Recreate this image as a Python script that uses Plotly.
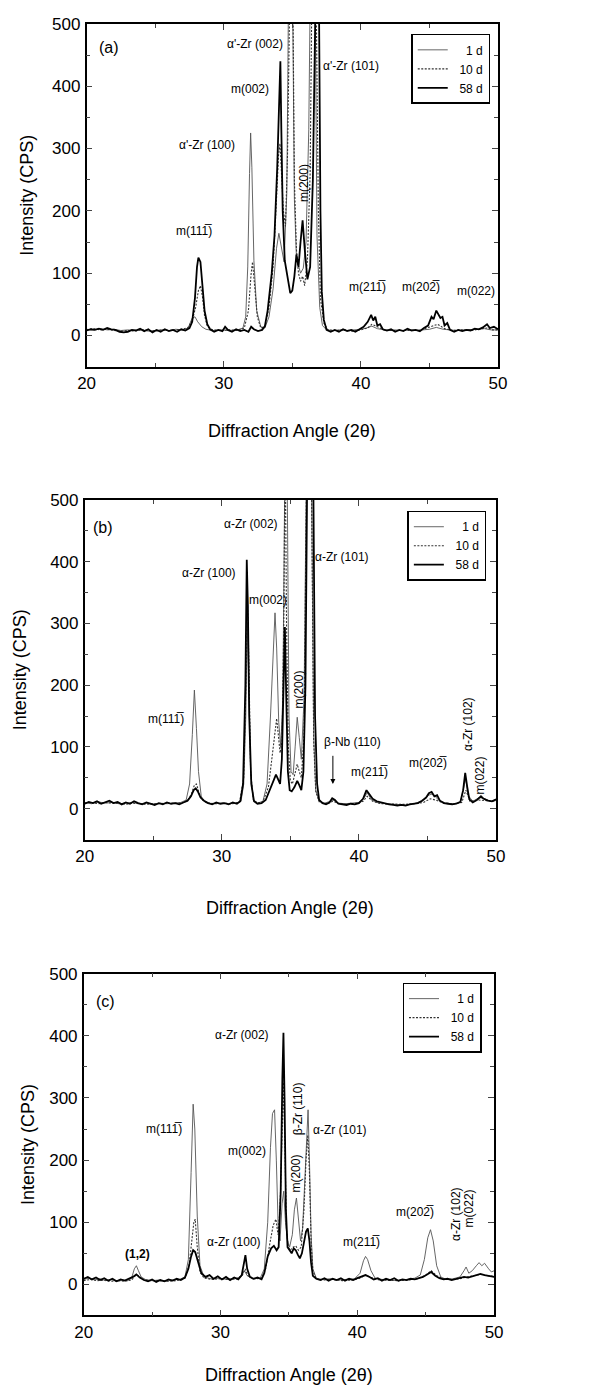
import plotly.graph_objects as go

# ---------------- data ----------------
series_names = ["1 d", "10 d", "58 d"]

a_1d = [(20.0,10),(20.5,9),(21.0,11),(21.5,9),(22.0,10),(22.5,8),(23.0,9),(23.5,8),(24.0,9),(24.5,7),(25.0,8),(25.5,9),(26.0,8),(26.5,10),(27.0,9),(27.4,12),(27.7,28),(27.9,30),(28.1,22),(28.4,14),(28.7,10),(29.2,8),(29.8,9),(30.4,8),(31.0,9),(31.4,12),(31.6,30),(31.75,110),(31.88,260),(31.96,325),(32.05,270),(32.2,120),(32.4,40),(32.7,14),(33.0,12),(33.3,30),(33.6,75),(33.85,140),(34.02,164),(34.2,140),(34.4,118),(34.6,230),(34.75,500),(34.88,950),(35.0,600),(35.15,220),(35.3,125),(35.42,114),(35.6,100),(35.8,108),(36.0,150),(36.2,330),(36.35,600),(36.5,950),(36.65,600),(36.8,160),(37.0,45),(37.2,16),(37.5,9),(38.0,8),(38.5,9),(39.0,8),(39.5,9),(40.0,10),(40.4,12),(40.8,15),(41.2,11),(41.6,10),(42.0,8),(42.5,9),(43.0,8),(43.5,9),(44.0,8),(44.5,9),(45.0,10),(45.5,13),(46.0,10),(46.5,9),(47.0,8),(47.5,9),(48.0,9),(48.5,10),(49.0,11),(49.5,9),(50.0,9)]
a_10d = [(20.0,9),(20.5,11),(21.0,9),(21.5,10),(22.0,8),(22.5,7),(23.0,8),(23.5,7),(24.0,9),(24.5,8),(25.0,7),(25.5,9),(26.0,8),(26.5,9),(27.0,10),(27.4,13),(27.7,24),(27.95,45),(28.15,72),(28.3,80),(28.45,62),(28.6,32),(28.8,15),(29.2,9),(29.8,8),(30.4,9),(31.0,8),(31.5,12),(31.8,40),(32.0,100),(32.1,118),(32.25,80),(32.45,30),(32.7,12),(33.0,14),(33.3,45),(33.6,110),(33.85,220),(34.0,290),(34.1,308),(34.2,270),(34.35,200),(34.5,175),(34.65,290),(34.8,520),(34.95,950),(35.05,520),(35.15,250),(35.3,138),(35.45,100),(35.6,87),(35.75,95),(35.9,80),(36.1,120),(36.3,260),(36.45,520),(36.6,950),(36.75,520),(36.9,200),(37.05,60),(37.3,20),(37.6,9),(38.2,8),(38.8,9),(39.4,7),(40.0,9),(40.5,12),(40.8,18),(41.2,14),(41.7,9),(42.3,8),(43.0,8),(43.6,9),(44.2,8),(44.8,12),(45.3,16),(45.6,18),(46.1,11),(46.7,8),(47.3,9),(48.0,8),(48.6,10),(49.2,12),(49.6,9),(50.0,9)]
a_58d = [(20.0,8),(20.3,10),(20.6,9),(20.9,11),(21.2,9),(21.5,12),(21.8,10),(22.1,9),(22.4,6),(22.7,5),(23.0,6),(23.3,9),(23.6,8),(23.9,11),(24.2,7),(24.5,10),(24.8,5),(25.1,9),(25.4,6),(25.7,10),(26.0,7),(26.3,9),(26.6,6),(26.9,10),(27.2,8),(27.5,12),(27.7,22),(27.9,60),(28.05,110),(28.15,125),(28.3,118),(28.45,80),(28.6,40),(28.8,18),(29.0,10),(29.3,6),(29.6,9),(29.9,7),(30.1,14),(30.3,9),(30.6,6),(30.9,10),(31.2,7),(31.5,9),(31.8,6),(32.0,14),(32.2,10),(32.5,7),(32.8,9),(33.0,15),(33.2,40),(33.5,100),(33.7,160),(33.9,270),(34.05,400),(34.13,440),(34.2,330),(34.3,200),(34.45,120),(34.55,105),(34.7,85),(34.85,68),(35.0,72),(35.15,95),(35.3,130),(35.45,110),(35.6,150),(35.75,185),(35.9,140),(36.1,90),(36.3,110),(36.5,250),(36.68,520),(36.82,950),(36.95,520),(37.05,200),(37.15,70),(37.3,25),(37.5,9),(37.8,6),(38.1,9),(38.4,6),(38.7,10),(39.0,7),(39.3,9),(39.6,6),(39.9,10),(40.2,14),(40.5,22),(40.75,33),(40.9,24),(41.05,30),(41.2,16),(41.4,18),(41.6,10),(41.9,8),(42.2,10),(42.5,6),(42.8,9),(43.1,7),(43.4,11),(43.7,8),(44.0,9),(44.3,7),(44.6,12),(44.9,16),(45.15,30),(45.3,26),(45.5,40),(45.65,34),(45.8,28),(45.95,30),(46.1,16),(46.3,20),(46.5,9),(46.8,6),(47.1,9),(47.4,7),(47.7,9),(48.0,8),(48.3,11),(48.6,10),(48.9,13),(49.2,18),(49.4,12),(49.7,14),(50.0,10)]

b_1d = [(20.0,10),(20.5,8),(21.0,11),(21.5,9),(22.0,10),(22.5,8),(23.0,9),(23.5,10),(24.0,8),(24.5,9),(25.0,7),(25.5,9),(26.0,8),(26.5,9),(27.0,10),(27.4,14),(27.65,40),(27.85,120),(28.0,192),(28.15,130),(28.3,60),(28.5,20),(28.8,10),(29.3,8),(29.9,9),(30.5,8),(31.0,9),(31.4,12),(31.6,40),(31.75,150),(31.85,300),(31.95,220),(32.1,60),(32.3,15),(32.6,9),(33.0,12),(33.3,40),(33.55,150),(33.75,270),(33.88,317),(34.0,260),(34.15,140),(34.3,100),(34.45,180),(34.58,500),(34.68,950),(34.78,500),(34.9,150),(35.05,60),(35.2,55),(35.35,100),(35.5,148),(35.65,115),(35.8,80),(36.0,180),(36.15,520),(36.35,950),(36.55,520),(36.7,120),(36.85,30),(37.1,12),(37.5,9),(38.0,12),(38.2,14),(38.5,9),(39.0,8),(39.5,9),(40.0,10),(40.4,18),(40.6,26),(40.9,15),(41.3,10),(42.0,8),(42.7,7),(43.4,6),(44.0,8),(44.6,12),(45.1,22),(45.4,24),(45.8,14),(46.3,9),(46.9,8),(47.4,10),(47.7,40),(47.8,48),(47.95,22),(48.3,12),(48.8,18),(49.2,16),(49.6,12),(50.0,14)]
b_10d = [(20.0,9),(20.5,10),(21.0,8),(21.5,10),(22.0,9),(22.5,9),(23.0,7),(23.5,9),(24.0,8),(24.5,7),(25.0,8),(25.5,8),(26.0,9),(26.5,8),(27.0,9),(27.5,12),(27.8,25),(28.0,38),(28.15,40),(28.35,25),(28.6,14),(29.0,9),(29.6,8),(30.2,9),(30.8,8),(31.3,11),(31.6,50),(31.78,220),(31.88,330),(31.98,230),(32.1,60),(32.3,14),(32.6,9),(33.0,11),(33.4,35),(33.7,90),(33.9,130),(34.0,146),(34.12,120),(34.25,90),(34.4,110),(34.52,300),(34.62,600),(34.72,300),(34.85,100),(35.0,45),(35.15,40),(35.3,55),(35.5,72),(35.65,60),(35.8,50),(36.0,120),(36.15,500),(36.35,950),(36.55,500),(36.7,110),(36.85,28),(37.1,11),(37.6,8),(38.1,12),(38.6,8),(39.2,7),(39.8,9),(40.3,12),(40.6,20),(41.0,12),(41.6,8),(42.4,7),(43.2,7),(44.0,8),(44.7,10),(45.2,16),(45.6,14),(46.2,9),(46.9,8),(47.5,10),(47.8,30),(48.1,12),(48.7,14),(49.3,13),(50.0,12)]
b_58d = [(20.0,8),(20.3,11),(20.6,9),(20.9,12),(21.2,8),(21.5,10),(21.8,13),(22.1,9),(22.4,11),(22.7,7),(23.0,10),(23.3,8),(23.6,12),(23.9,9),(24.2,7),(24.5,10),(24.8,8),(25.1,6),(25.4,9),(25.7,7),(26.0,10),(26.3,8),(26.6,9),(26.9,7),(27.2,10),(27.5,13),(27.75,20),(27.95,30),(28.1,33),(28.25,28),(28.45,18),(28.7,13),(29.0,9),(29.3,7),(29.6,10),(29.9,8),(30.2,9),(30.5,7),(30.8,10),(31.1,8),(31.35,12),(31.55,40),(31.72,200),(31.82,403),(31.9,330),(32.0,150),(32.15,40),(32.35,12),(32.6,8),(32.9,9),(33.2,14),(33.5,30),(33.75,45),(33.95,55),(34.1,48),(34.25,40),(34.38,80),(34.5,230),(34.6,294),(34.7,180),(34.82,60),(34.95,30),(35.1,28),(35.3,35),(35.5,45),(35.65,38),(35.8,30),(35.95,60),(36.1,200),(36.25,600),(36.45,950),(36.65,600),(36.8,150),(36.95,40),(37.1,14),(37.35,9),(37.6,7),(37.85,10),(38.05,17),(38.25,14),(38.5,8),(38.8,7),(39.1,6),(39.4,8),(39.7,7),(40.0,9),(40.3,16),(40.55,30),(40.75,24),(41.0,16),(41.3,12),(41.6,10),(41.9,8),(42.2,7),(42.5,6),(42.8,5),(43.1,6),(43.4,5),(43.7,7),(44.0,8),(44.3,9),(44.6,13),(44.9,18),(45.1,25),(45.3,27),(45.5,20),(45.7,22),(45.9,13),(46.2,9),(46.5,8),(46.8,7),(47.1,8),(47.4,11),(47.6,30),(47.75,58),(47.9,35),(48.05,15),(48.3,10),(48.6,14),(48.9,20),(49.1,16),(49.4,13),(49.7,12),(50.0,15)]

c_1d = [(20.0,8),(20.4,10),(20.8,7),(21.2,9),(21.6,6),(22.0,8),(22.4,5),(22.8,7),(23.2,6),(23.5,10),(23.7,25),(23.85,30),(24.0,22),(24.2,12),(24.5,8),(25.0,6),(25.5,7),(26.0,5),(26.5,7),(27.0,8),(27.4,12),(27.65,40),(27.85,180),(28.0,290),(28.12,250),(28.3,110),(28.5,30),(28.8,12),(29.3,9),(29.9,10),(30.5,8),(31.0,9),(31.5,12),(31.75,22),(31.95,14),(32.4,9),(32.9,10),(33.2,25),(33.45,100),(33.65,220),(33.8,275),(33.95,281),(34.08,200),(34.22,90),(34.35,70),(34.5,130),(34.62,150),(34.75,100),(34.9,70),(35.05,60),(35.25,80),(35.4,120),(35.55,139),(35.7,100),(35.85,70),(36.0,90),(36.15,160),(36.3,250),(36.4,281),(36.5,200),(36.62,80),(36.75,25),(37.0,10),(37.4,8),(38.0,9),(38.6,7),(39.2,8),(39.8,9),(40.2,18),(40.45,38),(40.6,45),(40.75,40),(41.0,22),(41.3,10),(41.8,8),(42.4,7),(43.0,6),(43.6,8),(44.2,10),(44.6,15),(44.9,40),(45.15,75),(45.35,88),(45.55,70),(45.8,30),(46.1,12),(46.5,8),(47.0,9),(47.5,12),(47.8,22),(47.95,28),(48.15,18),(48.4,22),(48.7,30),(48.9,35),(49.1,30),(49.3,34),(49.6,25),(49.8,20),(50.0,22)]
c_10d = [(20.0,6),(20.5,8),(21.0,6),(21.5,7),(22.0,5),(22.5,6),(23.0,5),(23.5,7),(23.8,15),(24.0,14),(24.3,8),(24.8,6),(25.5,6),(26.2,5),(26.8,6),(27.4,10),(27.7,30),(27.9,70),(28.05,100),(28.15,105),(28.3,60),(28.5,20),(28.8,10),(29.4,8),(30.0,9),(30.6,8),(31.2,9),(31.6,15),(31.8,25),(32.0,14),(32.5,9),(33.0,10),(33.3,25),(33.6,65),(33.85,95),(34.05,105),(34.2,80),(34.35,120),(34.5,250),(34.6,325),(34.7,230),(34.82,90),(34.95,60),(35.1,55),(35.3,60),(35.5,62),(35.7,55),(35.9,60),(36.1,120),(36.25,200),(36.38,240),(36.5,180),(36.62,70),(36.75,22),(37.0,9),(37.5,7),(38.2,8),(38.9,6),(39.6,7),(40.2,10),(40.6,15),(41.0,11),(41.6,7),(42.3,6),(43.0,6),(43.7,7),(44.4,9),(45.0,15),(45.4,22),(45.8,14),(46.3,9),(46.9,8),(47.5,9),(48.0,12),(48.5,14),(49.0,16),(49.5,14),(50.0,13)]
c_58d = [(20.0,9),(20.3,12),(20.6,8),(20.9,11),(21.2,7),(21.5,10),(21.8,6),(22.1,9),(22.4,5),(22.7,8),(23.0,6),(23.3,9),(23.6,12),(23.85,16),(24.1,11),(24.4,7),(24.7,5),(25.0,8),(25.3,4),(25.6,7),(25.9,5),(26.2,8),(26.5,6),(26.8,9),(27.1,7),(27.4,11),(27.65,25),(27.85,45),(28.0,55),(28.15,52),(28.35,35),(28.6,18),(28.9,12),(29.2,15),(29.5,9),(29.8,13),(30.1,8),(30.4,12),(30.7,7),(31.0,11),(31.3,8),(31.55,15),(31.72,35),(31.82,47),(31.95,25),(32.15,12),(32.4,9),(32.7,11),(33.0,8),(33.2,18),(33.45,45),(33.7,58),(33.9,62),(34.1,55),(34.25,60),(34.4,150),(34.52,330),(34.6,405),(34.68,300),(34.78,120),(34.9,60),(35.05,55),(35.2,50),(35.35,58),(35.5,55),(35.65,48),(35.8,42),(35.95,50),(36.1,70),(36.25,85),(36.38,90),(36.5,70),(36.62,35),(36.75,14),(37.0,9),(37.3,7),(37.6,10),(37.9,6),(38.2,9),(38.5,7),(38.8,10),(39.1,6),(39.4,9),(39.7,7),(40.0,10),(40.3,12),(40.6,15),(40.9,12),(41.2,8),(41.5,10),(41.8,6),(42.1,9),(42.4,7),(42.7,10),(43.0,6),(43.3,8),(43.6,7),(43.9,9),(44.2,8),(44.5,10),(44.8,12),(45.1,16),(45.4,20),(45.7,14),(46.0,10),(46.3,8),(46.6,9),(46.9,7),(47.2,9),(47.5,10),(47.8,12),(48.1,11),(48.4,13),(48.7,15),(49.0,17),(49.3,15),(49.6,14),(50.0,12)]

x_ticks = [20, 30, 40, 50]
y_ticks = [0, 100, 200, 300, 400, 500]

# peak labels: (text, x, y, angle, size)
labels_a = [("(a)", 21.6, 462, 0, 16), ("α'-Zr (002)", 32.3, 468, 0, 12), ("α'-Zr (101)", 39.3, 433, 0, 12),
            ("m(002)", 31.9, 396, 0, 12), ("α'-Zr (100)", 28.8, 305, 0, 12), ("m(200)", 35.9, 244, -90, 12),
            ("m(111\u0305)", 27.8, 168, 0, 12), ("m(211\u0305)", 40.45, 78, 0, 12), ("m(202\u0305)", 44.35, 78, 0, 12),
            ("m(022)", 48.4, 72, 0, 12)]
labels_b = [("(b)", 21.35, 455, 0, 16), ("α-Zr (002)", 32.1, 461, 0, 12), ("α-Zr (100)", 29.06, 381, 0, 12),
            ("α-Zr (101)", 38.8, 408, 0, 12), ("m(002)", 33.4, 337, 0, 12), ("m(200)", 35.64, 193, -90, 12),
            ("m(111\u0305)", 25.95, 145, 0, 12), ("β-Nb (110)", 39.5, 108, 0, 12), ("m(211\u0305)", 40.8, 59, 0, 12),
            ("m(202\u0305)", 45.05, 74, 0, 12), ("α-Zr (102)", 47.95, 137, -90, 12), ("m(022)", 48.8, 53, -90, 12)]
labels_c = [("(c)", 21.6, 455, 0, 16), ("α-Zr (002)", 31.6, 401, 0, 12), ("m(111\u0305)", 25.9, 250, 0, 12),
            ("β-Zr (110)", 35.67, 282, -90, 12), ("α-Zr (101)", 38.7, 249, 0, 12), ("m(002)", 31.9, 214, 0, 12),
            ("m(200)", 35.5, 178, -90, 12), ("m(202\u0305)", 44.2, 116, 0, 12), ("α-Zr (102)", 47.2, 113, -90, 12),
            ("m(022)", 48.15, 122, -90, 12), ("<b>(1,2)</b>", 23.9, 49, 0, 12), ("α-Zr (100)", 31.0, 69, 0, 12),
            ("m(211\u0305)", 40.3, 68, 0, 12)]

# ---------------- figure ----------------
W, H = 605, 1386
FONT = "Liberation Sans, Arial, sans-serif"
styles = {
    "1 d": dict(color="#555555", width=0.9),
    "10 d": dict(color="#333333", width=1.1, dash="2px,1.5px"),
    "58 d": dict(color="#000000", width=1.8),
}
legend_text = {"1 d": "\u00a0\u00a0\u00a0\u00a01 d", "10 d": "\u00a0\u00a010 d", "58 d": "\u00a0\u00a058 d"}

panels = [
    ([a_1d, a_10d, a_58d], "x", "y", "legend", (80, 504), (15, 360), (496, 25), labels_a, 425, 19),
    ([b_1d, b_10d, b_58d], "x2", "y2", "legend2", (78, 502), (494, 836), (492, 505), labels_b, 905, 11),
    ([c_1d, c_10d, c_58d], "x3", "y3", "legend3", (77, 500), (971, 1315), (487, 980), labels_c, 1375, 19),
]

fig = go.Figure()
layout = dict(width=W, height=H, margin=dict(l=0, r=0, t=0, b=0),
              paper_bgcolor="white", plot_bgcolor="white",
              font=dict(family=FONT, color="black", size=12), annotations=[], shapes=[])

for i, (data, xa, ya, lg, (xl, xr), (yt, yb), (lr, lt), labels, xt_y, yt_x) in enumerate(panels):
    for name, pts in zip(series_names, data):
        fig.add_trace(go.Scatter(x=[p[0] for p in pts], y=[p[1] for p in pts], mode="lines",
                                 name=legend_text[name], line=styles[name], xaxis=xa, yaxis=ya,
                                 legend=lg, showlegend=True))
    sfx = "" if i == 0 else str(i + 1)
    layout["xaxis" + sfx] = dict(domain=[xl / W, xr / W], anchor="y" + sfx, range=[20, 50],
                                 tickvals=x_ticks, ticks="inside", ticklen=6, tickwidth=1.2,
                                 showline=True, linewidth=1.5, linecolor="black", mirror="ticks",
                                 showgrid=False, zeroline=False, ticklabelstandoff=0,
                                 tickfont=dict(size=17, family=FONT),
                                 minor=dict(ticks="inside", dtick=5, tick0=20, ticklen=4, tickwidth=1, showgrid=False))
    layout["yaxis" + sfx] = dict(domain=[1 - yb / H, 1 - yt / H], anchor="x" + sfx, range=[-50, 500],
                                 tickvals=y_ticks, ticks="inside", ticklen=6, tickwidth=1.2,
                                 showline=True, linewidth=1.5, linecolor="black", mirror="ticks",
                                 showgrid=False, zeroline=False, ticklabelstandoff=1,
                                 tickfont=dict(size=17, family=FONT),
                                 minor=dict(ticks="inside", dtick=50, tick0=0, ticklen=4, tickwidth=1, showgrid=False))
    layout[lg] = dict(x=lr / W, y=1 - lt / H, xanchor="right", yanchor="top", xref="paper", yref="paper",
                      bordercolor="black", borderwidth=1.5, bgcolor="white",
                      font=dict(size=12, family=FONT), tracegroupgap=0, itemwidth=30)
    for (txt, lx, ly, ang, fs) in labels:
        layout["annotations"].append(dict(text=txt, x=lx, y=ly, xref=xa, yref=ya, showarrow=False,
                                          textangle=ang, font=dict(size=fs, family=FONT)))
    # axis titles
    layout["annotations"].append(dict(text="Diffraction Angle (2θ)", x=((xl + xr) / 2) / W,
                                      y=1 - xt_y / H, xref="paper", yref="paper",
                                      xanchor="center", yanchor="middle",
                                      showarrow=False, font=dict(size=18, family=FONT)))
    layout["annotations"].append(dict(text="Intensity (CPS)", x=yt_x / W,
                                      y=1 - ((yt + yb) / 2) / H, xref="paper", yref="paper",
                                      xanchor="center", yanchor="middle",
                                      showarrow=False, textangle=-90, font=dict(size=18, family=FONT)))

# β-Nb arrow in panel (b)
layout["annotations"].append(dict(text="", x=38.1, y=40, ax=38.1, ay=88, xref="x2", yref="y2",
                                  axref="x2", ayref="y2", showarrow=True, arrowhead=2, arrowsize=1,
                                  arrowwidth=1, arrowcolor="black"))

fig.update_layout(**layout)
fig.write_html("out.html")
